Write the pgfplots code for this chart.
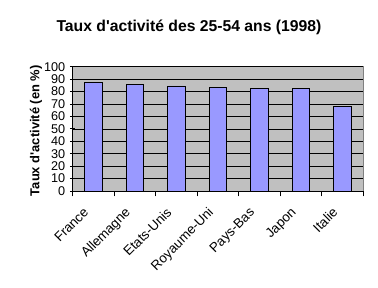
\documentclass[border=0pt]{standalone}
\usepackage{pgfplots}
\pgfplotsset{compat=1.18}
\usepackage{fontspec}
\setmainfont{Liberation Sans}
\definecolor{bgray}{HTML}{C0C0C0}
\definecolor{barc}{HTML}{9999FF}
\begin{document}
\begin{tikzpicture}[x=1pt,y=1pt]
\path[use as bounding box] (0,0) rectangle (283.5,216);
\node[font=\bfseries\fontsize{11.8}{13}\selectfont] at (141.75,195.5) {Taux d\textquotesingle activité des 25-54 ans (1998)};
\node[rotate=90, font=\bfseries\fontsize{9.7}{11}\selectfont] at (27,118) {Taux d\textquotesingle activité (en \%)};
\begin{axis}[
  at={(54.4pt,72.75pt)}, anchor=south west,
  width=217.9pt, height=93.2pt, scale only axis,
  xmin=-0.5, xmax=6.5, ymin=0, ymax=100,
  ytick={0,10,...,100},
  xtick={0,...,6},
  xticklabels={France,Allemagne,Etats-Unis,Royaume-Uni,Pays-Bas,Japon,Italie},
  minor xtick={-0.5,0.5,...,6.5},
  major x tick style={draw=none},
  tick align=outside,
  major tick length=4pt,
  minor tick length=4pt,
  tick style={black, line width=0.6pt},
  axis lines=left,
  axis line style={-, black, line width=0.6pt},
  axis background/.style={fill=bgray, draw=gray},
  ymajorgrids, grid style={black, line width=0.5pt},
  /pgf/number format/assume math mode=true,
  yticklabel style={font=\fontsize{9.5}{10}\selectfont},
  xticklabel style={font=\fontsize{10}{11}\selectfont, xshift=-8pt, yshift=-6pt, rotate=45, anchor=north east, inner sep=1pt},
  ybar, bar width=13pt,
]
\addplot[fill=barc, draw=black, line width=0.6pt] coordinates {
  (0,87) (1,85.5) (2,84.5) (3,83.5) (4,82.7) (5,82.7) (6,68.3)
};
\end{axis}
\end{tikzpicture}
\end{document}
